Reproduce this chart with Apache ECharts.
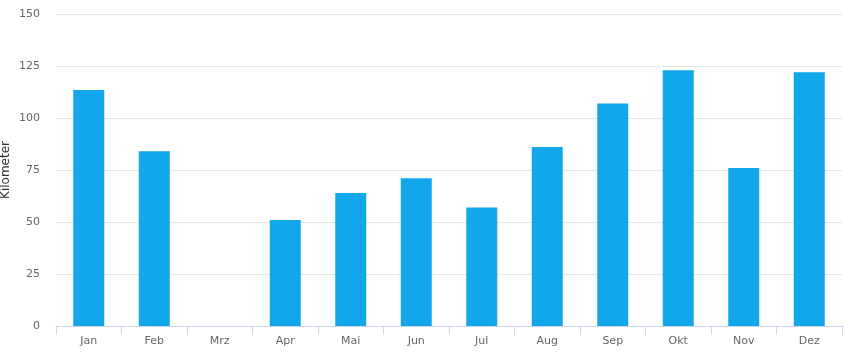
<!DOCTYPE html>
<html>
<head>
<meta charset="utf-8">
<script src="https://cdn.jsdelivr.net/npm/echarts@6/dist/echarts.min.js"></script>
<style>html,body{margin:0;padding:0;background:#fff}#c{width:862px;height:355px}</style>
</head>
<body>
<div id="c"></div>
<script>
const categories = ['Jan','Feb','Mrz','Apr','Mai','Jun','Jul','Aug','Sep','Okt','Nov','Dez'];
const kilometer = [113.5, 84, 0, 51, 64, 71, 57, 86, 107, 123, 76, 122];
const yTicks = {min: 0, max: 150, interval: 25};
const yName = 'Kilometer';

const chart = echarts.init(document.getElementById('c'), null, {renderer: 'canvas'});
chart.setOption({
  animation: false,
  grid: {left: 56, right: 20, top: 14, bottom: 29, containLabel: false, outerBoundsMode: 'none'},
  xAxis: {
    type: 'category',
    data: categories,
    boundaryGap: true,
    axisLine: {lineStyle: {color: '#ccd6eb', width: 1}},
    axisTick: {show: true, length: 9, lineStyle: {color: '#ccd6eb'}, alignWithLabel: false},
    axisLabel: {color: '#666666', fontSize: 11, fontFamily: 'DejaVu Sans', margin: 10}
  },
  yAxis: {
    type: 'value',
    min: yTicks.min, max: yTicks.max, interval: yTicks.interval,
    name: yName,
    nameLocation: 'middle',
    nameRotate: 90,
    nameGap: 44,
    nameMoveOverlap: false,
    nameTextStyle: {color: '#333333', fontSize: 12, fontFamily: 'DejaVu Sans'},
    axisLine: {show: false},
    axisTick: {show: false},
    axisLabel: {color: '#666666', fontSize: 11, fontFamily: 'DejaVu Sans', margin: 16},
    splitLine: {lineStyle: {color: '#e6e6e6', width: 1}}
  },
  series: [{
    type: 'bar',
    data: kilometer,
    barWidth: 31,
    itemStyle: {color: '#12a7eb'}
  }]
});
</script>
</body>
</html>
